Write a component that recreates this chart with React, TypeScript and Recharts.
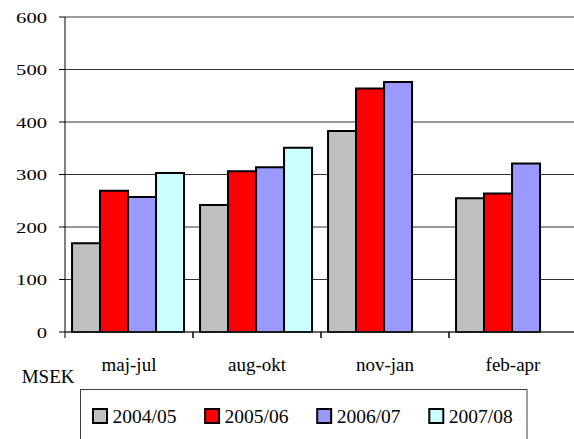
import React from 'react';
import { BarChart, Bar, XAxis, YAxis, CartesianGrid, ReferenceLine } from 'recharts';

const categories = ['maj-jul', 'aug-okt', 'nov-jan', 'feb-apr'];
const seriesNames = ['2004/05', '2005/06', '2006/07', '2007/08'];
const s2004 = [169, 242, 383, 255];
const s2005 = [269, 306, 464, 264];
const s2006 = [257, 314, 476, 321];
const s2007: (number | null)[] = [303, 351, null, null];
const yTicks = [0, 100, 200, 300, 400, 500, 600];

const seriesValues = [s2004, s2005, s2006, s2007];
const seriesKeys = ['a', 'b', 'c', 'd'];
const colors = ['#C0C0C0', '#FF0000', '#9999FF', '#CCFFFF'];

const data = categories.map((cat, i) => {
  const row: Record<string, any> = { cat };
  seriesKeys.forEach((k, j) => {
    row[k] = seriesValues[j][i];
  });
  return row;
});

const FONT = '"Times New Roman", "Liberation Serif", Tinos, "DejaVu Serif", serif';
const textStyle = { fontFamily: FONT };

const YTick = (props: any) => {
  const { x, y, payload } = props;
  const label = String(payload.value);
  const len = label.length * 10.3;
  return (
    <text
      x={x - len}
      y={y + 5.8}
      textAnchor="start"
      textLength={len}
      lengthAdjust="spacingAndGlyphs"
      style={textStyle}
      fontSize={15.5}
      fill="#000"
    >
      {label}
    </text>
  );
};

const XTick = (props: any) => {
  const { x, y, payload } = props;
  const off = payload && typeof payload.offset === 'number' && payload.offset > 0 ? payload.offset : 64;
  return (
    <g>
      <line x1={x - off} y1={y} x2={x - off} y2={y + 6} stroke="#000" strokeWidth={1} />
      <line x1={x + off} y1={y} x2={x + off} y2={y + 6} stroke="#000" strokeWidth={1} />
      <text x={x} y={y + 38.7} textAnchor="middle" style={textStyle} fontSize={19} fill="#000">
        {payload.value}
      </text>
    </g>
  );
};

export default function App() {
  return (
    <div style={{ position: 'absolute', left: 0, top: 0, width: 574, height: 439, background: '#fff', overflow: 'hidden', fontFamily: FONT }}>
      <BarChart
        width={574}
        height={439}
        data={data}
        margin={{ top: 17, right: -3, bottom: 77, left: 0 }}
        barCategoryGap="5.5%"
        barGap={0}
      >
        <CartesianGrid vertical={false} stroke="#333" strokeWidth={1} />
        <ReferenceLine y={600} stroke="#999" strokeWidth={2} />
        <XAxis
          dataKey="cat"
          height={30}
          tickLine={false}
          tickSize={0}
          tickMargin={0}
          axisLine={{ stroke: '#333', strokeWidth: 1 }}
          tick={<XTick />}
          interval={0}
        />
        <YAxis
          width={65}
          domain={[0, 600]}
          ticks={yTicks}
          tickSize={6}
          tickMargin={12}
          tickLine={{ stroke: '#000', strokeWidth: 1 }}
          axisLine={{ stroke: '#000', strokeWidth: 1 }}
          tick={<YTick />}
          interval={0}
        />
        {seriesKeys.map((k, j) => (
          <Bar
            key={k}
            dataKey={k}
            name={seriesNames[j]}
            fill={colors[j]}
            stroke="#000"
            strokeWidth={2}
            isAnimationActive={false}
          />
        ))}
      </BarChart>
      <svg
        width={574}
        height={439}
        style={{ position: 'absolute', left: 0, top: 0, pointerEvents: 'none' }}
      >
        <text x={21.7} y={383.3} style={textStyle} fontSize={19} fill="#000">
          MSEK
        </text>
        <rect x={80.5} y={389.5} width={446.5} height={70} fill="none" stroke="#404040" strokeWidth={1} />
        {seriesNames.map((name, j) => (
          <g key={name}>
            <rect x={93 + j * 112.1} y={409} width={14} height={14} fill={colors[j]} stroke="#000" strokeWidth={2} />
            <text x={112.5 + j * 112.1} y={423} style={textStyle} fontSize={19.5} fill="#000">
              {name}
            </text>
          </g>
        ))}
      </svg>
    </div>
  );
}
